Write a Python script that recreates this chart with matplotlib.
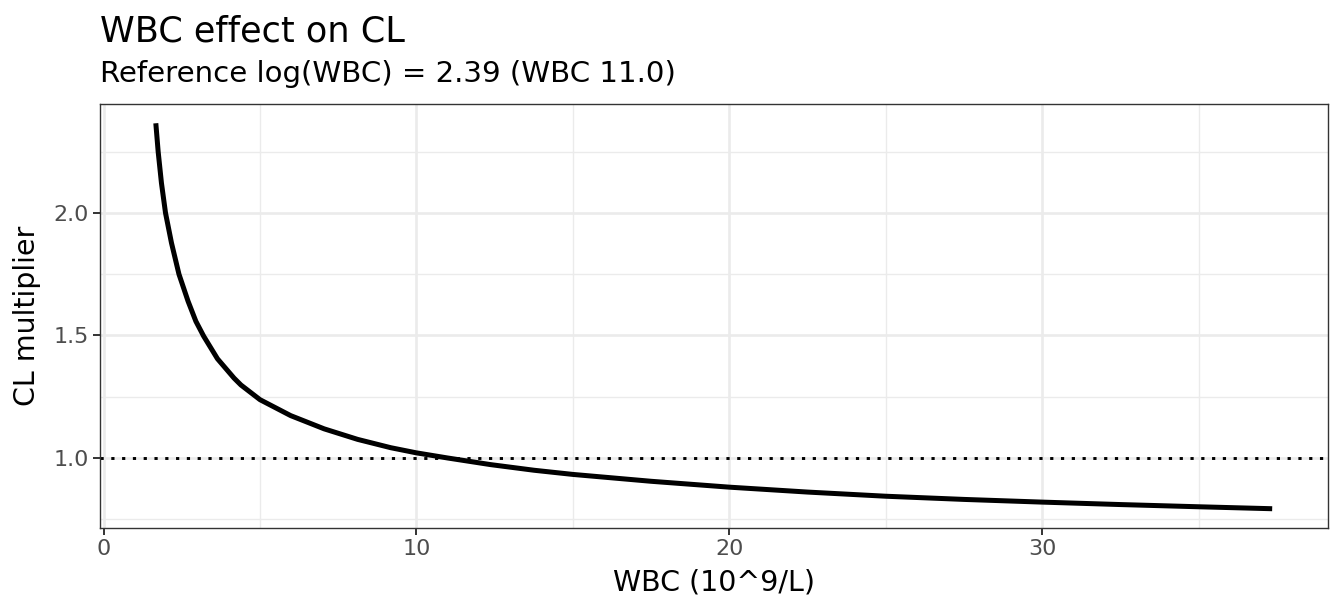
import matplotlib
matplotlib.use("Agg")
import matplotlib.pyplot as plt
from matplotlib.ticker import FixedLocator

plt.rcParams['font.family'] = ['DejaVu Sans']

# Data
wbc = [1.67, 1.745, 1.85, 1.98, 2.17, 2.41, 2.70, 2.95, 3.2, 3.64, 4.17,
       4.39, 5.0, 5.98, 7.05, 8.12, 9.18, 10.0, 11.0, 12.37, 13.76, 15.0,
       17.5, 20.0, 22.5, 25.0, 27.5, 30.0, 32.5, 35.0, 37.35]
cl_mult = [2.366, 2.25, 2.122, 2.0, 1.878, 1.75, 1.64, 1.558, 1.497, 1.405,
           1.326, 1.298, 1.238, 1.173, 1.119, 1.076, 1.042, 1.021, 1.0, 0.973,
           0.950, 0.933, 0.905, 0.881, 0.861, 0.844, 0.831, 0.820, 0.810,
           0.801, 0.793]
ref_line = 1.0
x_ticks = [0, 10, 20, 30]
x_minor = [5, 15, 25, 35]
y_ticks = [1.0, 1.5, 2.0]
y_minor = [0.75, 1.25, 1.75, 2.25]
title = "WBC effect on CL"
subtitle = "Reference log(WBC) = 2.39 (WBC 11.0)"
xlabel = "WBC (10^9/L)"
ylabel = "CL multiplier"

W, H = 1344, 614
fig = plt.figure(figsize=(W/100, H/100), dpi=100)
L, R, T, B = 100, 1328, 104, 528
ax = fig.add_axes([L/W, 1-B/H, (R-L)/W, (B-T)/H])

ax.plot(wbc, cl_mult, color='black', lw=3.6, solid_capstyle='butt',
        solid_joinstyle='round', zorder=3)
ax.axhline(ref_line, color='black', lw=2.1, ls=(0, (1.1, 2.6)), zorder=2)

xr = max(wbc) - min(wbc)
yr = max(cl_mult) - min(cl_mult)
ax.set_xlim(min(wbc) - 0.05*xr, max(wbc) + 0.05*xr)
ax.set_ylim(min(cl_mult) - 0.05*yr, max(cl_mult) + 0.05*yr)

ax.xaxis.set_major_locator(FixedLocator(x_ticks))
ax.yaxis.set_major_locator(FixedLocator(y_ticks))
ax.xaxis.set_minor_locator(FixedLocator(x_minor))
ax.yaxis.set_minor_locator(FixedLocator(y_minor))
ax.set_xticklabels([str(t) for t in x_ticks])
ax.set_yticklabels([f"{t:.1f}" for t in y_ticks])

ax.grid(which='major', color='#EBEBEB', lw=1.9, zorder=0)
ax.grid(which='minor', color='#EBEBEB', lw=1.0, zorder=0)
ax.set_axisbelow(True)

for s in ax.spines.values():
    s.set_color('#333333')
    s.set_linewidth(1.0)

ax.tick_params(which='major', length=5.2, width=1.4, color='#333333',
               labelcolor='#4D4D4D', labelsize=16, pad=3)
ax.tick_params(which='minor', length=0)

ax.set_xlabel(xlabel, fontsize=20.5, color='black', va='center')
ax.xaxis.set_label_coords(0.5, -(583-B)/(B-T))
ax.set_ylabel(ylabel, fontsize=20.5, color='black', va='center')
ax.yaxis.set_label_coords((27-L)/(R-L), 0.5)

fig.text(L/W, 1-41/H, title, fontsize=25.3, ha='left', va='baseline')
fig.text(L/W, 1-82/H, subtitle, fontsize=21.1, ha='left', va='baseline')

fig.savefig("out.png", dpi=100, facecolor='white')
